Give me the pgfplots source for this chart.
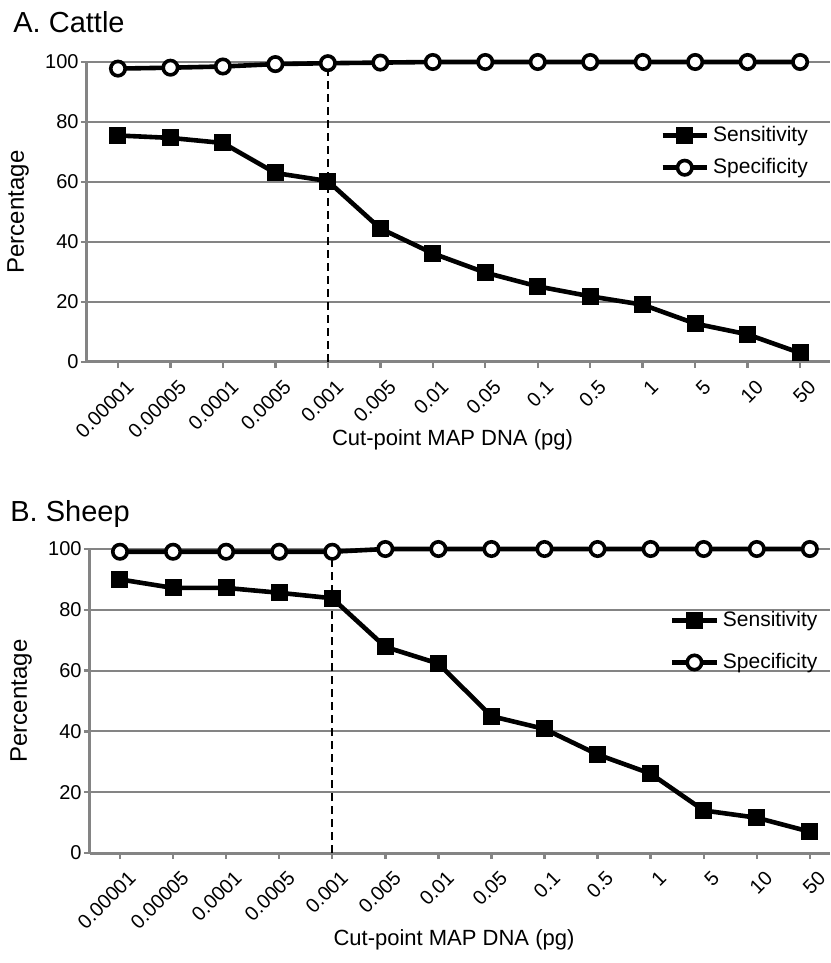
\documentclass[border=0pt]{standalone}
\usepackage{fontspec}
\setmainfont{Liberation Sans}
\usepackage{pgfplots}
\pgfplotsset{compat=1.18}
\definecolor{axgray}{RGB}{132,132,132}

\pgfplotsset{
  mapstyle/.style={
    scale only axis,
    ymin=0, ymax=100, ytick={0,20,...,100},
    xtick={0,...,13},
    xticklabels={0.00001,0.00005,0.0001,0.0005,0.001,0.005,0.01,0.05,0.1,0.5,1,5,10,50},
    x tick label style={rotate=45, anchor=north east, font=\fontsize{10}{12}\selectfont, inner sep=1pt, yshift=-5pt},
    y tick label style={font=\fontsize{10}{12}\selectfont, inner sep=1pt},
    /pgf/number format/assume math mode=true,
    axis lines*=left,
    axis line style={axgray, line width=1.5pt},
    ymajorgrids, grid style={axgray, line width=1pt},
    tick style={axgray, line width=1.2pt},
    major tick length=3pt, tick align=outside,
    clip=false,
    xlabel={Cut-point MAP DNA (pg)},
    ylabel={Percentage},
    every axis y label/.style={at={(rel axis cs:0,0.5)}, xshift=-34.5pt, rotate=90, anchor=center, font=\fontsize{12}{14}\selectfont},
    every axis x label/.style={at={(rel axis cs:0.5,0)}, xshift=-3pt, anchor=center, font=\fontsize{11}{13}\selectfont},
    legend style={draw=none, fill=none, inner sep=0pt, font=\fontsize{10.5}{12}\selectfont},
    legend cell align=left,
    legend image code/.code={\draw[mark repeat=2, mark phase=2, #1] plot coordinates {(0cm,0cm) (0.39cm,0cm) (0.78cm,0cm)};},
    title style={at={(rel axis cs:0,1)}, anchor=west, inner sep=0pt, font=\fontsize{14.5}{17}\selectfont},
  },
  sens/.style={black, line width=2.3pt, mark=square*, mark size=4pt, mark options={solid, fill=black, line width=0.5pt}},
  spec/.style={black, line width=2.3pt, mark=*, mark size=3.6pt, mark options={solid, fill=white, line width=1.8pt}},
}

\begin{document}
\begin{tikzpicture}
\begin{axis}[mapstyle, name=cattle,
  width=371.5pt, height=150pt,
  xmin=-0.59, xmax=13.57,
  title={A. Cattle}, title style={xshift=-37pt, yshift=14pt},
  xlabel style={yshift=-39pt},
  legend style={at={(rel axis cs:0.976,0.80)}, anchor=north east, row sep=3pt},
]
\addplot[sens] coordinates {
  (0,75.5)(1,74.7)(2,73)(3,63)(4,60.3)(5,44.5)(6,36.2)(7,29.8)(8,25.2)(9,21.9)(10,19.1)(11,12.8)(12,9.2)(13,3)
};
\addlegendentry{Sensitivity}
\addplot[spec] coordinates {
  (0,97.8)(1,98.1)(2,98.5)(3,99.3)(4,99.6)(5,99.8)(6,100)(7,100)(8,100)(9,100)(10,100)(11,100)(12,100)(13,100)
};
\addlegendentry{Specificity}
\addplot[black, line width=0.8pt, dash pattern=on 4pt off 2.5pt, forget plot] coordinates {(4,0)(4,99.6)};
\end{axis}

\begin{axis}[mapstyle, name=sheep, at={(1.5pt,-245.5pt)},
  width=370pt, height=152pt,
  xmin=-0.565, xmax=13.38,
  title={B. Sheep}, title style={xshift=-40pt, yshift=11.5pt},
  xlabel style={yshift=-43.5pt},
  legend style={at={(rel axis cs:0.989,0.81)}, anchor=north east, row sep=8pt},
]
\addplot[sens] coordinates {
  (0,90)(1,87.2)(2,87.2)(3,85.6)(4,83.8)(5,67.8)(6,62.3)(7,45)(8,40.8)(9,32.4)(10,26.1)(11,14)(12,11.6)(13,7)
};
\addlegendentry{Sensitivity}
\addplot[spec] coordinates {
  (0,99.1)(1,99.1)(2,99.1)(3,99.1)(4,99.1)(5,100)(6,100)(7,100)(8,100)(9,100)(10,100)(11,100)(12,100)(13,100)
};
\addlegendentry{Specificity}
\addplot[black, line width=0.8pt, dash pattern=on 4pt off 2.5pt, forget plot] coordinates {(4,0)(4,99.1)};
\end{axis}
\pgfresetboundingbox
\path[use as bounding box] (-43.5pt,-300.5pt) rectangle (371.5pt,181pt);
\end{tikzpicture}
\end{document}
